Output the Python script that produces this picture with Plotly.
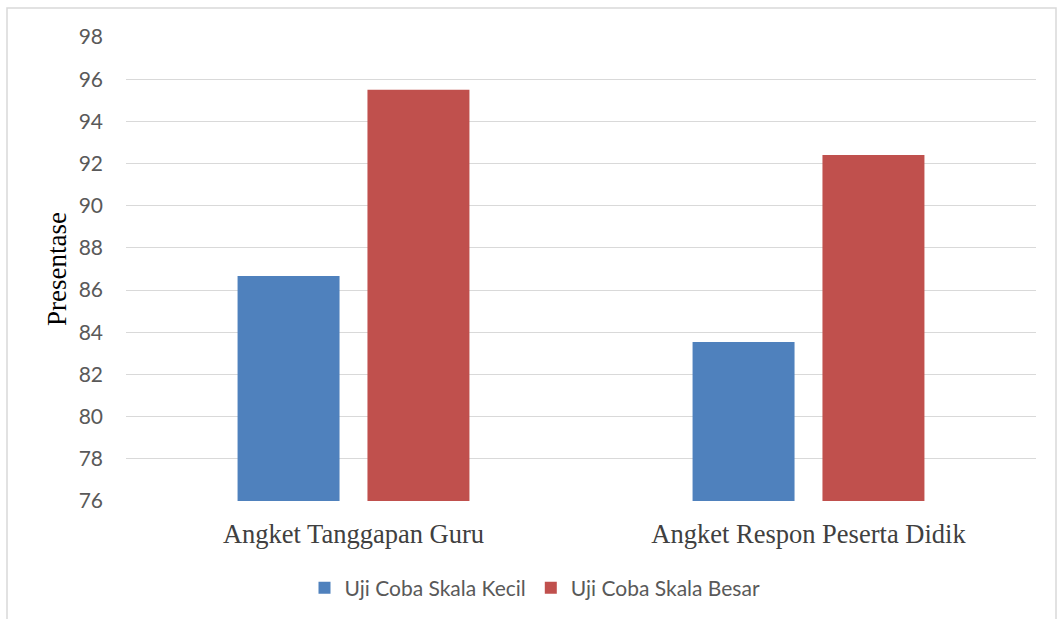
import plotly.graph_objects as go

categories = ["Angket Tanggapan Guru", "Angket Respon Peserta Didik"]
kecil = [86.67, 83.54]
besar = [95.5, 92.4]
series_names = ["Uji Coba Skala Kecil", "Uji Coba Skala Besar"]
y_ticks = list(range(76, 99, 2))

fig = go.Figure()
fig.add_trace(go.Bar(x=categories, y=kecil, name=series_names[0],
                     marker=dict(color="#4F81BD", line=dict(width=0))))
fig.add_trace(go.Bar(x=categories, y=besar, name=series_names[1],
                     marker=dict(color="#C0504D", line=dict(width=0))))

L, R, T, B = 126, 21, 37, 117
W, H = 1057, 619
pw = W - L - R
ph = H - T - B

fig.update_layout(
    width=W, height=H,
    margin=dict(l=L, r=R, t=T, b=B),
    paper_bgcolor="white", plot_bgcolor="white",
    barmode="group", bargap=0.429, bargroupgap=0.215,
    font=dict(family="Lato", size=21, color="#595959"),
    legend=dict(orientation="h", x=(535 - L) / pw, xanchor="center", y=(T + ph - 588) / ph,
                yanchor="middle", font=dict(family="Lato", size=21, color="#595959"),
                itemwidth=30, traceorder="normal"),
    xaxis=dict(showgrid=False, showline=False, ticks="",
               tickfont=dict(family="Liberation Serif", size=26.5, color="#404040"),
               ticklabelstandoff=14),
    yaxis=dict(range=[76, 98], tickvals=y_ticks, showgrid=True, gridcolor="#d9d9d9",
               gridwidth=1.3, zeroline=False, showline=False, ticks="",
               ticklabelstandoff=22,
               tickfont=dict(family="Lato", size=21, color="#595959"),
               title=dict(text="Presentase", standoff=4,
                          font=dict(family="Liberation Serif", size=27, color="black"))),
    shapes=[dict(type="rect", xref="paper", yref="paper",
                 x0=(7 - L) / pw, x1=(1056 - L) / pw,
                 y0=(T + ph - 630) / ph, y1=(T + ph - 8) / ph,
                 line=dict(color="#d9d9d9", width=1.5), fillcolor="rgba(0,0,0,0)",
                 layer="below")],
)

fig.write_html("out.html")
